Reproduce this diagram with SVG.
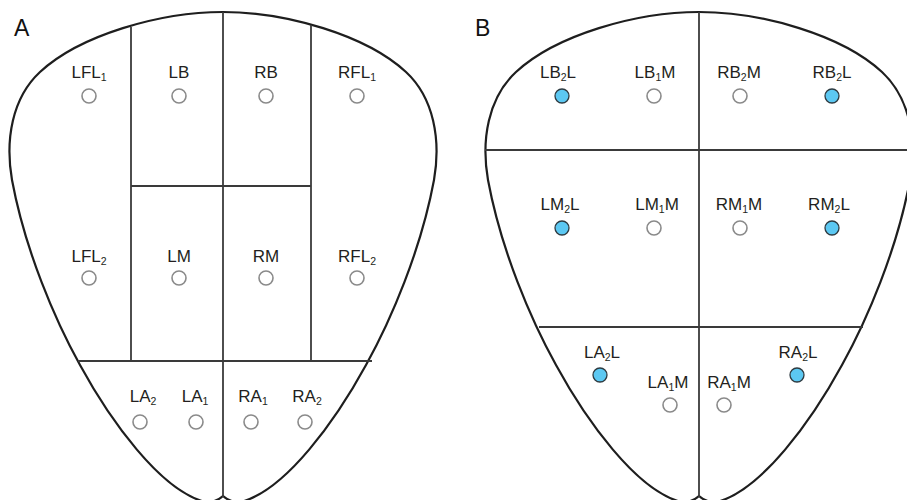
<svg xmlns="http://www.w3.org/2000/svg" xmlns:xlink="http://www.w3.org/1999/xlink" width="907" height="500" viewBox="0 0 907 500">
<style>
.outline{fill:#fff;stroke:#1e1e1e;stroke-width:2.2}
.div{stroke:#3a3a3a;stroke-width:1.8;fill:none}
.lbl{font-family:"Liberation Sans",Arial,sans-serif;font-size:17px;fill:#231f20;text-anchor:middle}
.sub{font-size:10.5px}
.panel{font-family:"Liberation Sans",Arial,sans-serif;font-size:23px;fill:#111}
.pt{fill:#fff;stroke:#8a8a8a;stroke-width:1.6}
.pb{fill:#5cc8f2;stroke:#2e3a40;stroke-width:1.3}
</style>
<defs>
<path id="tongue" d="M223,12 C160,12 80,35 40,72 C12,98 5,140 12,180 C25,250 55,320 80,365 C110,420 160,490 205,502 Q215,503 223,496 Q231,503 241,502 C286,490 336,420 366,365 C391,320 421,250 434,180 C441,140 434,98 406,72 C366,35 286,12 223,12 Z"/>
</defs>
<rect width="907" height="500" fill="#fff"/>
<g id="panelA">
<use xlink:href="#tongue" class="outline"/>
<g id="A-lines" class="div">
<line x1="223" y1="12" x2="223" y2="497"/>
<line x1="131" y1="27" x2="131" y2="361"/>
<line x1="311" y1="25" x2="311" y2="361"/>
<line x1="131" y1="186" x2="311" y2="186"/>
<line x1="78" y1="361" x2="372" y2="361"/>
</g>
<text class="panel" x="14" y="36">A</text>
<g id="LFL1"><text class="lbl" x="89" y="78">LFL<tspan class="sub" dy="3">1</tspan></text><circle class="pt" cx="89" cy="96" r="7"/></g>
<g id="LB"><text class="lbl" x="179" y="78">LB</text><circle class="pt" cx="179" cy="96" r="7"/></g>
<g id="RB"><text class="lbl" x="266" y="78">RB</text><circle class="pt" cx="266" cy="96" r="7"/></g>
<g id="RFL1"><text class="lbl" x="357" y="78">RFL<tspan class="sub" dy="3">1</tspan></text><circle class="pt" cx="357" cy="96" r="7"/></g>
<g id="LFL2"><text class="lbl" x="89" y="262">LFL<tspan class="sub" dy="3">2</tspan></text><circle class="pt" cx="89" cy="278" r="7"/></g>
<g id="LM"><text class="lbl" x="179" y="262">LM</text><circle class="pt" cx="179" cy="278" r="7"/></g>
<g id="RM"><text class="lbl" x="266" y="262">RM</text><circle class="pt" cx="266" cy="278" r="7"/></g>
<g id="RFL2"><text class="lbl" x="357" y="262">RFL<tspan class="sub" dy="3">2</tspan></text><circle class="pt" cx="357" cy="278" r="7"/></g>
<g id="LA2"><text class="lbl" x="143" y="402">LA<tspan class="sub" dy="3">2</tspan></text><circle class="pt" cx="140" cy="422" r="7"/></g>
<g id="LA1"><text class="lbl" x="195" y="402">LA<tspan class="sub" dy="3">1</tspan></text><circle class="pt" cx="196" cy="422" r="7"/></g>
<g id="RA1"><text class="lbl" x="253" y="402">RA<tspan class="sub" dy="3">1</tspan></text><circle class="pt" cx="251" cy="422" r="7"/></g>
<g id="RA2"><text class="lbl" x="307" y="402">RA<tspan class="sub" dy="3">2</tspan></text><circle class="pt" cx="305" cy="422" r="7"/></g>
</g>
<g id="panelB">
<use xlink:href="#tongue" class="outline" transform="translate(476,0)"/>
<g id="B-lines" class="div">
<line x1="699" y1="12" x2="699" y2="497"/>
<line x1="485" y1="150" x2="907" y2="150"/>
<line x1="539" y1="327" x2="863" y2="327"/>
</g>
<text class="panel" x="475" y="36">B</text>
<g id="LB2L"><text class="lbl" x="558" y="78">LB<tspan class="sub" dy="3">2</tspan><tspan dy="-3">L</tspan></text><circle class="pb" cx="562" cy="96" r="7"/></g>
<g id="LB1M"><text class="lbl" x="655" y="78">LB<tspan class="sub" dy="3">1</tspan><tspan dy="-3">M</tspan></text><circle class="pt" cx="654" cy="96" r="7"/></g>
<g id="RB2M"><text class="lbl" x="739" y="78">RB<tspan class="sub" dy="3">2</tspan><tspan dy="-3">M</tspan></text><circle class="pt" cx="740" cy="96" r="7"/></g>
<g id="RB2L"><text class="lbl" x="832" y="78">RB<tspan class="sub" dy="3">2</tspan><tspan dy="-3">L</tspan></text><circle class="pb" cx="832" cy="96" r="7"/></g>
<g id="LM2L"><text class="lbl" x="560" y="210">LM<tspan class="sub" dy="3">2</tspan><tspan dy="-3">L</tspan></text><circle class="pb" cx="562" cy="228" r="7"/></g>
<g id="LM1M"><text class="lbl" x="657" y="210">LM<tspan class="sub" dy="3">1</tspan><tspan dy="-3">M</tspan></text><circle class="pt" cx="654" cy="228" r="7"/></g>
<g id="RM1M"><text class="lbl" x="739" y="210">RM<tspan class="sub" dy="3">1</tspan><tspan dy="-3">M</tspan></text><circle class="pt" cx="740" cy="228" r="7"/></g>
<g id="RM2L"><text class="lbl" x="829" y="210">RM<tspan class="sub" dy="3">2</tspan><tspan dy="-3">L</tspan></text><circle class="pb" cx="832" cy="228" r="7"/></g>
<g id="LA2L"><text class="lbl" x="602" y="358">LA<tspan class="sub" dy="3">2</tspan><tspan dy="-3">L</tspan></text><circle class="pb" cx="600" cy="375" r="7"/></g>
<g id="RA2L"><text class="lbl" x="798" y="358">RA<tspan class="sub" dy="3">2</tspan><tspan dy="-3">L</tspan></text><circle class="pb" cx="797" cy="375" r="7"/></g>
<g id="LA1M"><text class="lbl" x="668" y="388">LA<tspan class="sub" dy="3">1</tspan><tspan dy="-3">M</tspan></text><circle class="pt" cx="670" cy="405" r="7"/></g>
<g id="RA1M"><text class="lbl" x="729" y="388">RA<tspan class="sub" dy="3">1</tspan><tspan dy="-3">M</tspan></text><circle class="pt" cx="724" cy="405" r="7"/></g>
</g>
</svg>
